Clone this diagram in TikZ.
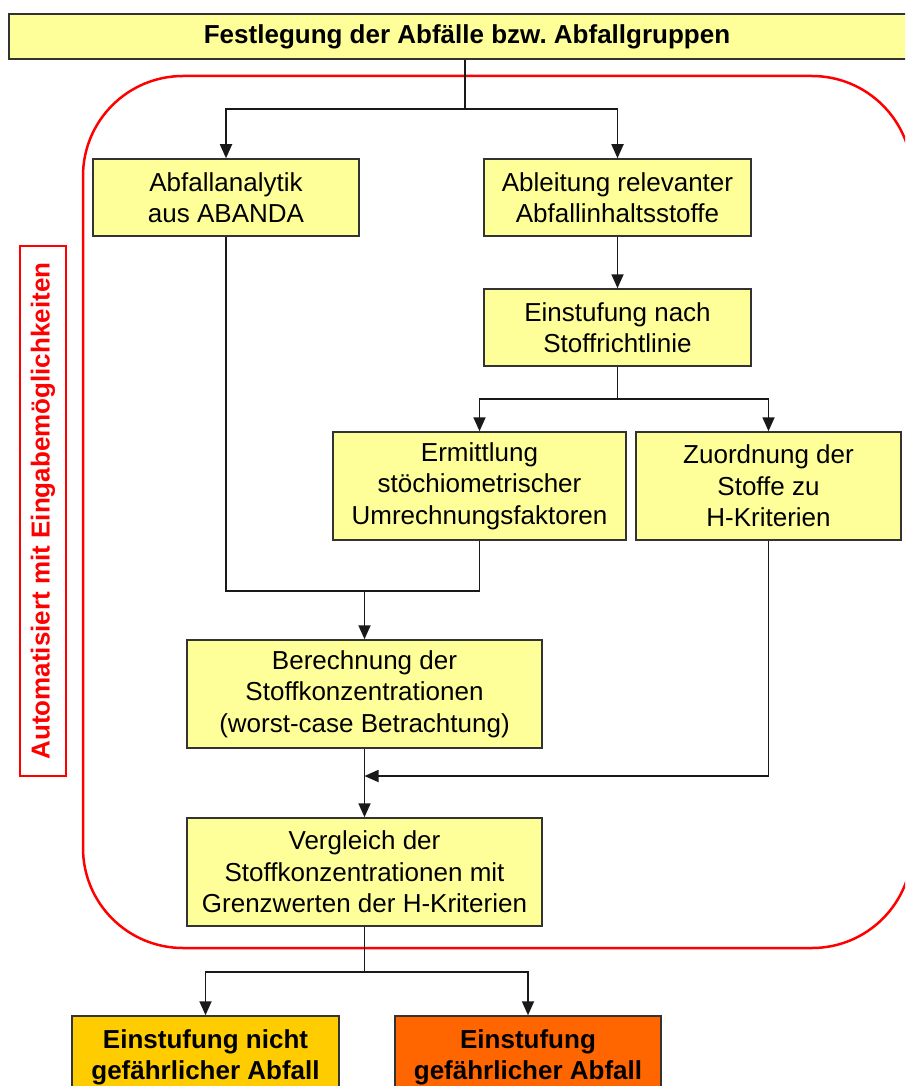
\documentclass[tikz,border=0pt]{standalone}
\usepackage{fontspec}
\setmainfont{Liberation Sans}
\frenchspacing
\usetikzlibrary{arrows.meta,positioning}
\definecolor{boxyellow}{HTML}{FFFF99}
\definecolor{resultyellow}{HTML}{FFCC00}
\definecolor{resultorange}{HTML}{FF6600}
\definecolor{boxline}{HTML}{333333}
\definecolor{framered}{HTML}{FF0000}
\tikzset{
  stepbox/.style={draw=boxline, line width=1.5pt, fill=boxyellow, inner sep=0pt,
    align=center, font=\fontsize{26}{31.5}\selectfont},
  resultbox/.style={stepbox, font=\fontsize{26}{31}\selectfont\bfseries},
  conn/.style={line width=1.8pt, draw=black!90},
  arr/.style={conn, -{Triangle[length=14pt, width=12pt]}},
}
\begin{document}
\begin{tikzpicture}[x=1pt, y=-1pt]
\useasboundingbox (0,0) rectangle (905,1086);
\clip (0,0) rectangle (905,1086);
\fill[white] (0,0) rectangle (905,1086);

% red frame
\draw[framered, line width=2.5pt, rounded corners=100pt] (83,76) rectangle (912,948);

% nodes
\node[stepbox, minimum width=916pt, minimum height=45pt, font=\fontsize{26}{31}\selectfont\bfseries] (top) at (467,36.5) {Festlegung der Abfälle bzw. Abfallgruppen};
\node[stepbox, minimum width=266pt, minimum height=77pt] (A) at (226,197.5) {Abfallanalytik\\aus ABANDA};
\node[stepbox, minimum width=267pt, minimum height=77pt] (B) at (617.5,197.5) {Ableitung relevanter\\Abfallinhaltsstoffe};
\node[stepbox, minimum width=267pt, minimum height=77pt] (C) at (617.5,327.5) {Einstufung nach\\Stoffrichtlinie};
\node[stepbox, minimum width=293pt, minimum height=108pt] (D) at (479.5,486) {Ermittlung\\stöchiometrischer\\Umrechnungsfaktoren};
\node[stepbox, minimum width=265pt, minimum height=108pt] (E) at (768.5,486) {Zuordnung der\\Stoffe zu\\H-Kriterien};
\node[stepbox, minimum width=355pt, minimum height=108pt] (F) at (364.5,694) {Berechnung der\\Stoffkonzentrationen\\(worst-case Betrachtung)};
\node[stepbox, minimum width=355pt, minimum height=108pt] (G) at (364.5,872) {Vergleich der\\Stoffkonzentrationen mit\\Grenzwerten der H-Kriterien};
\node[resultbox, fill=resultyellow, minimum width=267pt, minimum height=82pt] (H) at (205.5,1057) {Einstufung nicht\\gefährlicher Abfall};
\node[resultbox, fill=resultorange, minimum width=266pt, minimum height=82pt] (I) at (528,1057) {Einstufung\\gefährlicher Abfall};

% side label
\node[draw=framered, line width=1.2pt, rotate=90, minimum width=530pt, minimum height=46pt, inner sep=0pt,
  text=framered, font=\fontsize{26}{31}\selectfont\bfseries] (label) at (43,511) {Automatisiert mit Eingabemöglichkeiten};

% junction coordinates
\coordinate (j1) at (465,109);
\coordinate (j2) at (617.5,399);
\coordinate (j3) at (364.5,591);
\coordinate (j4) at (364.5,776);
\coordinate (j5) at (364.5,972);

% connectors
\draw[conn] (top.south -| j1) -- (j1);
\draw[arr] (j1) -| (A.north);
\draw[arr] (j1) -| (B.north);
\draw[arr] (B.south) -- (C.north);
\draw[conn] (C.south) -- (j2);
\draw[arr] (j2) -| (D.north);
\draw[arr] (j2) -| (E.north);
\draw[conn] (A.south) |- (j3);
\draw[conn] (D.south) |- (j3);
\draw[arr] (j3) -- (F.north);
\draw[arr] (E.south) |- (j4);
\draw[arr] (F.south) -- (G.north);
\draw[conn] (G.south) -- (j5);
\draw[arr] (j5) -| (H.north);
\draw[arr] (j5) -| (I.north);
\end{tikzpicture}
\end{document}
